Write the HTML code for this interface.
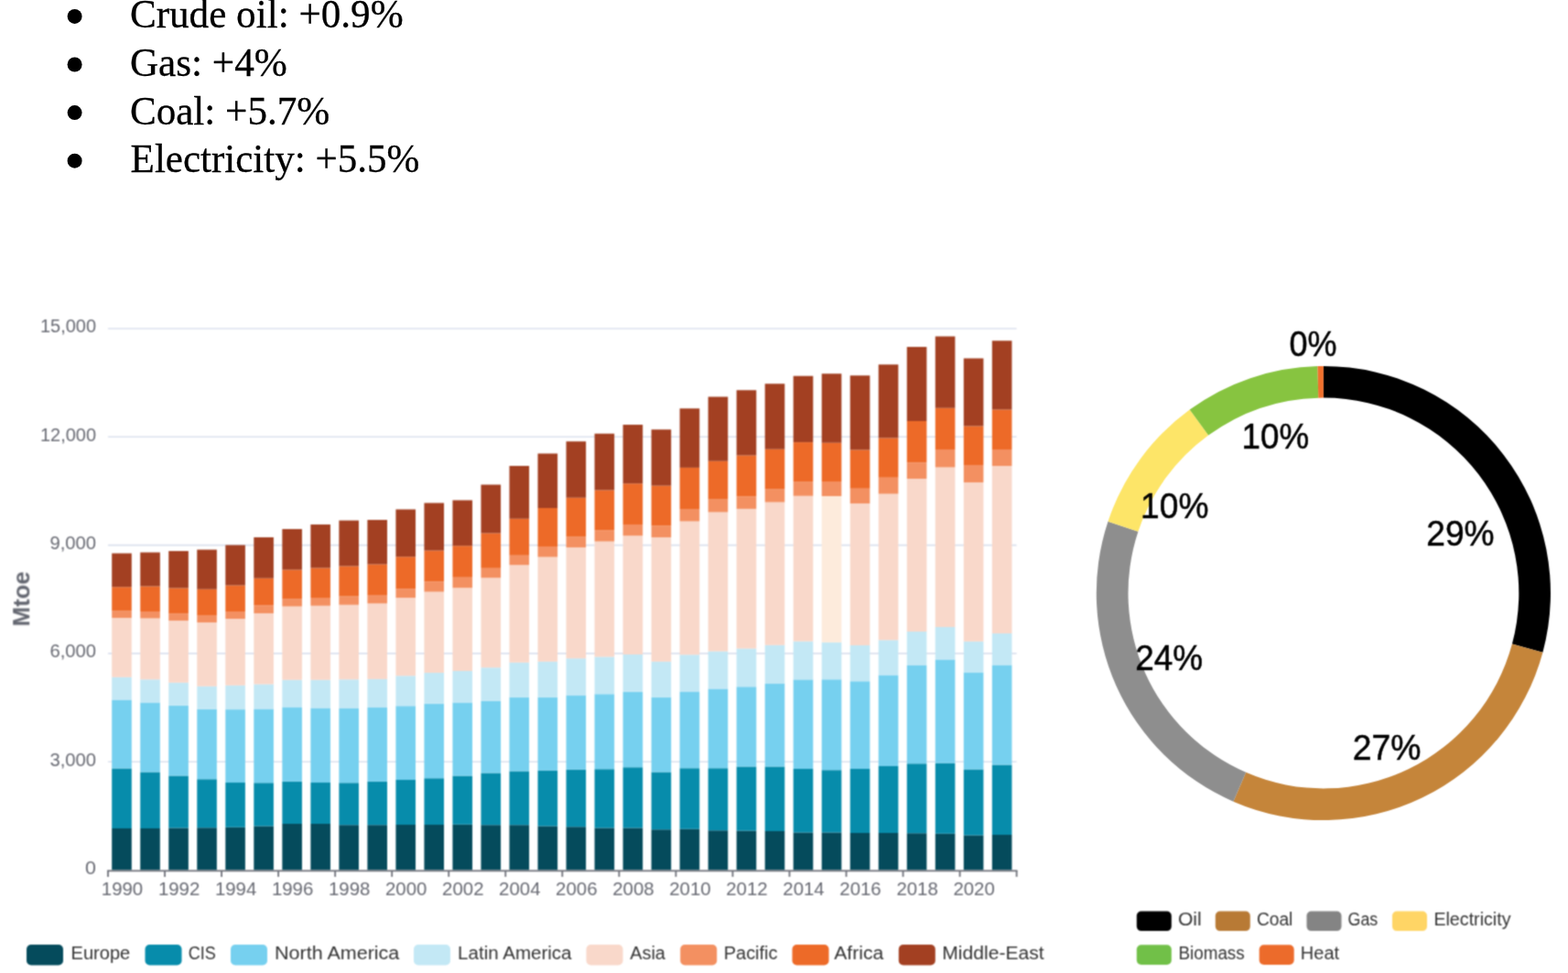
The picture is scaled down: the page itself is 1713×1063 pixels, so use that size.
<!DOCTYPE html>
<html lang="en"><head><meta charset="utf-8"><title>Energy consumption</title>
<style>
html,body{margin:0;padding:0;background:#fff;}
body{width:1713px;height:1063px;overflow:hidden;position:relative;}
svg{position:absolute;left:0;top:0;display:block;}
.b{font-family:"Liberation Serif", serif;font-size:44px;fill:#000;stroke:#000;stroke-width:0.3px;}
.ax{font-family:"Liberation Sans", sans-serif;font-size:20.5px;fill:#686a73;}
.lg{font-family:"Liberation Sans", sans-serif;font-size:20px;fill:#333;}
.pl{font-family:"Liberation Sans", sans-serif;font-size:39px;fill:#000;stroke:#000;stroke-width:0.5px;}
.yn{font-family:"Liberation Sans", sans-serif;font-size:25px;font-weight:bold;fill:#62656f;}
</style></head>
<body>
<svg width="1713" height="1063" viewBox="0 0 1713 1063">
<defs><filter id="bl" filterUnits="userSpaceOnUse" x="0" y="300" width="1713" height="763" color-interpolation-filters="sRGB"><feConvolveMatrix order="3" kernelMatrix="1 2 1 2 4 2 1 2 1" divisor="16" edgeMode="duplicate"/></filter><filter id="bl2" filterUnits="userSpaceOnUse" x="1150" y="300" width="563" height="650" color-interpolation-filters="sRGB"><feConvolveMatrix order="3" kernelMatrix="1 3 1 3 12 3 1 3 1" divisor="28" edgeMode="duplicate"/></filter></defs>
<rect width="1713" height="1063" fill="#fff"/>
<g id="bullets">
<circle cx="81.6" cy="17.9" r="8" fill="#000"/>
<text class="b" x="141.9" y="30.3" textLength="298.7" lengthAdjust="spacingAndGlyphs">Crude oil: +0.9%</text>
<circle cx="81.6" cy="70.5" r="8" fill="#000"/>
<text class="b" x="141.9" y="83.0" textLength="171.9" lengthAdjust="spacingAndGlyphs">Gas: +4%</text>
<circle cx="81.6" cy="123.1" r="8" fill="#000"/>
<text class="b" x="141.9" y="135.7" textLength="218.4" lengthAdjust="spacingAndGlyphs">Coal: +5.7%</text>
<circle cx="81.6" cy="175.7" r="8" fill="#000"/>
<text class="b" x="142.6" y="188.4" textLength="315.8" lengthAdjust="spacingAndGlyphs">Electricity: +5.5%</text>
</g>
<g id="bar-chart" filter="url(#bl)">
<line x1="118.0" y1="832.20" x2="1110.6" y2="832.20" stroke="#DBE1EE" stroke-width="1.6"/>
<line x1="118.0" y1="713.90" x2="1110.6" y2="713.90" stroke="#DBE1EE" stroke-width="1.6"/>
<line x1="118.0" y1="595.60" x2="1110.6" y2="595.60" stroke="#DBE1EE" stroke-width="1.6"/>
<line x1="118.0" y1="477.30" x2="1110.6" y2="477.30" stroke="#DBE1EE" stroke-width="1.6"/>
<line x1="118.0" y1="359.00" x2="1110.6" y2="359.00" stroke="#DBE1EE" stroke-width="1.6"/>
<text class="ax" x="93.1" y="954.8" textLength="11.9" lengthAdjust="spacingAndGlyphs">0</text>
<text class="ax" x="54.4" y="836.5" textLength="50.6" lengthAdjust="spacingAndGlyphs">3,000</text>
<text class="ax" x="54.4" y="718.2" textLength="50.6" lengthAdjust="spacingAndGlyphs">6,000</text>
<text class="ax" x="54.4" y="599.9" textLength="50.6" lengthAdjust="spacingAndGlyphs">9,000</text>
<text class="ax" x="44.0" y="481.6" textLength="61.0" lengthAdjust="spacingAndGlyphs">12,000</text>
<text class="ax" x="44.0" y="363.3" textLength="61.0" lengthAdjust="spacingAndGlyphs">15,000</text>
<text class="yn" transform="translate(32.2,684.4) rotate(-90)" textLength="60" lengthAdjust="spacingAndGlyphs">Mtoe</text>
<rect x="122.21" y="905.00" width="21.60" height="45.50" fill="#054B5C"/><rect x="122.21" y="839.50" width="21.60" height="65.50" fill="#078CAB"/><rect x="122.21" y="764.50" width="21.60" height="75.00" fill="#76D0EF"/><rect x="122.21" y="739.75" width="21.60" height="24.75" fill="#C3E8F5"/><rect x="122.21" y="675.00" width="21.60" height="64.75" fill="#F9D8CA"/><rect x="122.21" y="667.50" width="21.60" height="7.50" fill="#F39061"/><rect x="122.21" y="641.25" width="21.60" height="26.25" fill="#ED6A28"/><rect x="122.21" y="604.50" width="21.60" height="36.75" fill="#A34022"/>
<rect x="153.23" y="905.00" width="21.60" height="45.50" fill="#054B5C"/><rect x="153.23" y="843.50" width="21.60" height="61.50" fill="#078CAB"/><rect x="153.23" y="767.50" width="21.60" height="76.00" fill="#76D0EF"/><rect x="153.23" y="742.25" width="21.60" height="25.25" fill="#C3E8F5"/><rect x="153.23" y="675.50" width="21.60" height="66.75" fill="#F9D8CA"/><rect x="153.23" y="668.00" width="21.60" height="7.50" fill="#F39061"/><rect x="153.23" y="640.50" width="21.60" height="27.50" fill="#ED6A28"/><rect x="153.23" y="603.50" width="21.60" height="37.00" fill="#A34022"/>
<rect x="184.25" y="904.50" width="21.60" height="46.00" fill="#054B5C"/><rect x="184.25" y="847.50" width="21.60" height="57.00" fill="#078CAB"/><rect x="184.25" y="770.75" width="21.60" height="76.75" fill="#76D0EF"/><rect x="184.25" y="745.75" width="21.60" height="25.00" fill="#C3E8F5"/><rect x="184.25" y="678.00" width="21.60" height="67.75" fill="#F9D8CA"/><rect x="184.25" y="670.50" width="21.60" height="7.50" fill="#F39061"/><rect x="184.25" y="642.50" width="21.60" height="28.00" fill="#ED6A28"/><rect x="184.25" y="602.00" width="21.60" height="40.50" fill="#A34022"/>
<rect x="215.27" y="904.25" width="21.60" height="46.25" fill="#054B5C"/><rect x="215.27" y="851.25" width="21.60" height="53.00" fill="#078CAB"/><rect x="215.27" y="774.75" width="21.60" height="76.50" fill="#76D0EF"/><rect x="215.27" y="749.75" width="21.60" height="25.00" fill="#C3E8F5"/><rect x="215.27" y="680.00" width="21.60" height="69.75" fill="#F9D8CA"/><rect x="215.27" y="672.00" width="21.60" height="8.00" fill="#F39061"/><rect x="215.27" y="643.75" width="21.60" height="28.25" fill="#ED6A28"/><rect x="215.27" y="600.50" width="21.60" height="43.25" fill="#A34022"/>
<rect x="246.29" y="903.75" width="21.60" height="46.75" fill="#054B5C"/><rect x="246.29" y="855.00" width="21.60" height="48.75" fill="#078CAB"/><rect x="246.29" y="775.10" width="21.60" height="79.90" fill="#76D0EF"/><rect x="246.29" y="748.75" width="21.60" height="26.35" fill="#C3E8F5"/><rect x="246.29" y="676.00" width="21.60" height="72.75" fill="#F9D8CA"/><rect x="246.29" y="668.00" width="21.60" height="8.00" fill="#F39061"/><rect x="246.29" y="639.50" width="21.60" height="28.50" fill="#ED6A28"/><rect x="246.29" y="595.50" width="21.60" height="44.00" fill="#A34022"/>
<rect x="277.31" y="902.50" width="21.60" height="48.00" fill="#054B5C"/><rect x="277.31" y="855.25" width="21.60" height="47.25" fill="#078CAB"/><rect x="277.31" y="774.50" width="21.60" height="80.75" fill="#76D0EF"/><rect x="277.31" y="747.50" width="21.60" height="27.00" fill="#C3E8F5"/><rect x="277.31" y="670.00" width="21.60" height="77.50" fill="#F9D8CA"/><rect x="277.31" y="661.25" width="21.60" height="8.75" fill="#F39061"/><rect x="277.31" y="631.75" width="21.60" height="29.50" fill="#ED6A28"/><rect x="277.31" y="587.00" width="21.60" height="44.75" fill="#A34022"/>
<rect x="308.33" y="900.00" width="21.60" height="50.50" fill="#054B5C"/><rect x="308.33" y="853.75" width="21.60" height="46.25" fill="#078CAB"/><rect x="308.33" y="772.50" width="21.60" height="81.25" fill="#76D0EF"/><rect x="308.33" y="742.75" width="21.60" height="29.75" fill="#C3E8F5"/><rect x="308.33" y="662.50" width="21.60" height="80.25" fill="#F9D8CA"/><rect x="308.33" y="654.50" width="21.60" height="8.00" fill="#F39061"/><rect x="308.33" y="622.50" width="21.60" height="32.00" fill="#ED6A28"/><rect x="308.33" y="578.00" width="21.60" height="44.50" fill="#A34022"/>
<rect x="339.35" y="900.00" width="21.60" height="50.50" fill="#054B5C"/><rect x="339.35" y="855.00" width="21.60" height="45.00" fill="#078CAB"/><rect x="339.35" y="773.50" width="21.60" height="81.50" fill="#76D0EF"/><rect x="339.35" y="742.75" width="21.60" height="30.75" fill="#C3E8F5"/><rect x="339.35" y="661.75" width="21.60" height="81.00" fill="#F9D8CA"/><rect x="339.35" y="653.00" width="21.60" height="8.75" fill="#F39061"/><rect x="339.35" y="620.50" width="21.60" height="32.50" fill="#ED6A28"/><rect x="339.35" y="573.00" width="21.60" height="47.50" fill="#A34022"/>
<rect x="370.37" y="901.25" width="21.60" height="49.25" fill="#054B5C"/><rect x="370.37" y="855.25" width="21.60" height="46.00" fill="#078CAB"/><rect x="370.37" y="774.00" width="21.60" height="81.25" fill="#76D0EF"/><rect x="370.37" y="742.25" width="21.60" height="31.75" fill="#C3E8F5"/><rect x="370.37" y="660.75" width="21.60" height="81.50" fill="#F9D8CA"/><rect x="370.37" y="651.50" width="21.60" height="9.25" fill="#F39061"/><rect x="370.37" y="618.50" width="21.60" height="33.00" fill="#ED6A28"/><rect x="370.37" y="568.60" width="21.60" height="49.90" fill="#A34022"/>
<rect x="401.39" y="901.25" width="21.60" height="49.25" fill="#054B5C"/><rect x="401.39" y="853.75" width="21.60" height="47.50" fill="#078CAB"/><rect x="401.39" y="773.00" width="21.60" height="80.75" fill="#76D0EF"/><rect x="401.39" y="741.90" width="21.60" height="31.10" fill="#C3E8F5"/><rect x="401.39" y="659.25" width="21.60" height="82.65" fill="#F9D8CA"/><rect x="401.39" y="650.00" width="21.60" height="9.25" fill="#F39061"/><rect x="401.39" y="616.50" width="21.60" height="33.50" fill="#ED6A28"/><rect x="401.39" y="568.00" width="21.60" height="48.50" fill="#A34022"/>
<rect x="432.41" y="901.00" width="21.60" height="49.50" fill="#054B5C"/><rect x="432.41" y="852.00" width="21.60" height="49.00" fill="#078CAB"/><rect x="432.41" y="771.25" width="21.60" height="80.75" fill="#76D0EF"/><rect x="432.41" y="738.25" width="21.60" height="33.00" fill="#C3E8F5"/><rect x="432.41" y="653.00" width="21.60" height="85.25" fill="#F9D8CA"/><rect x="432.41" y="643.25" width="21.60" height="9.75" fill="#F39061"/><rect x="432.41" y="608.25" width="21.60" height="35.00" fill="#ED6A28"/><rect x="432.41" y="556.50" width="21.60" height="51.75" fill="#A34022"/>
<rect x="463.43" y="901.00" width="21.60" height="49.50" fill="#054B5C"/><rect x="463.43" y="850.25" width="21.60" height="50.75" fill="#078CAB"/><rect x="463.43" y="768.75" width="21.60" height="81.50" fill="#76D0EF"/><rect x="463.43" y="735.00" width="21.60" height="33.75" fill="#C3E8F5"/><rect x="463.43" y="646.50" width="21.60" height="88.50" fill="#F9D8CA"/><rect x="463.43" y="635.25" width="21.60" height="11.25" fill="#F39061"/><rect x="463.43" y="601.50" width="21.60" height="33.75" fill="#ED6A28"/><rect x="463.43" y="549.50" width="21.60" height="52.00" fill="#A34022"/>
<rect x="494.45" y="900.75" width="21.60" height="49.75" fill="#054B5C"/><rect x="494.45" y="847.60" width="21.60" height="53.15" fill="#078CAB"/><rect x="494.45" y="767.50" width="21.60" height="80.10" fill="#76D0EF"/><rect x="494.45" y="733.00" width="21.60" height="34.50" fill="#C3E8F5"/><rect x="494.45" y="642.20" width="21.60" height="90.80" fill="#F9D8CA"/><rect x="494.45" y="630.75" width="21.60" height="11.45" fill="#F39061"/><rect x="494.45" y="596.25" width="21.60" height="34.50" fill="#ED6A28"/><rect x="494.45" y="546.50" width="21.60" height="49.75" fill="#A34022"/>
<rect x="525.47" y="901.25" width="21.60" height="49.25" fill="#054B5C"/><rect x="525.47" y="844.50" width="21.60" height="56.75" fill="#078CAB"/><rect x="525.47" y="765.75" width="21.60" height="78.75" fill="#76D0EF"/><rect x="525.47" y="729.25" width="21.60" height="36.50" fill="#C3E8F5"/><rect x="525.47" y="631.25" width="21.60" height="98.00" fill="#F9D8CA"/><rect x="525.47" y="620.75" width="21.60" height="10.50" fill="#F39061"/><rect x="525.47" y="582.50" width="21.60" height="38.25" fill="#ED6A28"/><rect x="525.47" y="529.50" width="21.60" height="53.00" fill="#A34022"/>
<rect x="556.49" y="901.25" width="21.60" height="49.25" fill="#054B5C"/><rect x="556.49" y="842.50" width="21.60" height="58.75" fill="#078CAB"/><rect x="556.49" y="761.75" width="21.60" height="80.75" fill="#76D0EF"/><rect x="556.49" y="723.75" width="21.60" height="38.00" fill="#C3E8F5"/><rect x="556.49" y="617.25" width="21.60" height="106.50" fill="#F9D8CA"/><rect x="556.49" y="606.75" width="21.60" height="10.50" fill="#F39061"/><rect x="556.49" y="566.75" width="21.60" height="40.00" fill="#ED6A28"/><rect x="556.49" y="509.00" width="21.60" height="57.75" fill="#A34022"/>
<rect x="587.51" y="902.50" width="21.60" height="48.00" fill="#054B5C"/><rect x="587.51" y="841.75" width="21.60" height="60.75" fill="#078CAB"/><rect x="587.51" y="761.75" width="21.60" height="80.00" fill="#76D0EF"/><rect x="587.51" y="722.75" width="21.60" height="39.00" fill="#C3E8F5"/><rect x="587.51" y="608.50" width="21.60" height="114.25" fill="#F9D8CA"/><rect x="587.51" y="597.00" width="21.60" height="11.50" fill="#F39061"/><rect x="587.51" y="555.00" width="21.60" height="42.00" fill="#ED6A28"/><rect x="587.51" y="495.50" width="21.60" height="59.50" fill="#A34022"/>
<rect x="618.53" y="903.25" width="21.60" height="47.25" fill="#054B5C"/><rect x="618.53" y="840.75" width="21.60" height="62.50" fill="#078CAB"/><rect x="618.53" y="759.50" width="21.60" height="81.25" fill="#76D0EF"/><rect x="618.53" y="719.25" width="21.60" height="40.25" fill="#C3E8F5"/><rect x="618.53" y="598.00" width="21.60" height="121.25" fill="#F9D8CA"/><rect x="618.53" y="586.50" width="21.60" height="11.50" fill="#F39061"/><rect x="618.53" y="543.75" width="21.60" height="42.75" fill="#ED6A28"/><rect x="618.53" y="482.25" width="21.60" height="61.50" fill="#A34022"/>
<rect x="649.55" y="904.50" width="21.60" height="46.00" fill="#054B5C"/><rect x="649.55" y="840.25" width="21.60" height="64.25" fill="#078CAB"/><rect x="649.55" y="758.25" width="21.60" height="82.00" fill="#76D0EF"/><rect x="649.55" y="717.50" width="21.60" height="40.75" fill="#C3E8F5"/><rect x="649.55" y="591.50" width="21.60" height="126.00" fill="#F9D8CA"/><rect x="649.55" y="579.25" width="21.60" height="12.25" fill="#F39061"/><rect x="649.55" y="535.50" width="21.60" height="43.75" fill="#ED6A28"/><rect x="649.55" y="473.75" width="21.60" height="61.75" fill="#A34022"/>
<rect x="680.57" y="904.50" width="21.60" height="46.00" fill="#054B5C"/><rect x="680.57" y="838.25" width="21.60" height="66.25" fill="#078CAB"/><rect x="680.57" y="755.75" width="21.60" height="82.50" fill="#76D0EF"/><rect x="680.57" y="715.00" width="21.60" height="40.75" fill="#C3E8F5"/><rect x="680.57" y="585.25" width="21.60" height="129.75" fill="#F9D8CA"/><rect x="680.57" y="573.00" width="21.60" height="12.25" fill="#F39061"/><rect x="680.57" y="528.25" width="21.60" height="44.75" fill="#ED6A28"/><rect x="680.57" y="464.00" width="21.60" height="64.25" fill="#A34022"/>
<rect x="711.59" y="906.25" width="21.60" height="44.25" fill="#054B5C"/><rect x="711.59" y="843.50" width="21.60" height="62.75" fill="#078CAB"/><rect x="711.59" y="761.75" width="21.60" height="81.75" fill="#76D0EF"/><rect x="711.59" y="722.75" width="21.60" height="39.00" fill="#C3E8F5"/><rect x="711.59" y="587.00" width="21.60" height="135.75" fill="#F9D8CA"/><rect x="711.59" y="574.40" width="21.60" height="12.60" fill="#F39061"/><rect x="711.59" y="530.60" width="21.60" height="43.80" fill="#ED6A28"/><rect x="711.59" y="469.25" width="21.60" height="61.35" fill="#A34022"/>
<rect x="742.61" y="905.75" width="21.60" height="44.75" fill="#054B5C"/><rect x="742.61" y="839.25" width="21.60" height="66.50" fill="#078CAB"/><rect x="742.61" y="755.50" width="21.60" height="83.75" fill="#76D0EF"/><rect x="742.61" y="715.25" width="21.60" height="40.25" fill="#C3E8F5"/><rect x="742.61" y="569.50" width="21.60" height="145.75" fill="#F9D8CA"/><rect x="742.61" y="556.00" width="21.60" height="13.50" fill="#F39061"/><rect x="742.61" y="510.90" width="21.60" height="45.10" fill="#ED6A28"/><rect x="742.61" y="446.25" width="21.60" height="64.65" fill="#A34022"/>
<rect x="773.63" y="907.25" width="21.60" height="43.25" fill="#054B5C"/><rect x="773.63" y="839.25" width="21.60" height="68.00" fill="#078CAB"/><rect x="773.63" y="752.50" width="21.60" height="86.75" fill="#76D0EF"/><rect x="773.63" y="711.50" width="21.60" height="41.00" fill="#C3E8F5"/><rect x="773.63" y="559.50" width="21.60" height="152.00" fill="#F9D8CA"/><rect x="773.63" y="545.60" width="21.60" height="13.90" fill="#F39061"/><rect x="773.63" y="503.75" width="21.60" height="41.85" fill="#ED6A28"/><rect x="773.63" y="433.50" width="21.60" height="70.25" fill="#A34022"/>
<rect x="804.65" y="907.60" width="21.60" height="42.90" fill="#054B5C"/><rect x="804.65" y="837.50" width="21.60" height="70.10" fill="#078CAB"/><rect x="804.65" y="750.25" width="21.60" height="87.25" fill="#76D0EF"/><rect x="804.65" y="708.50" width="21.60" height="41.75" fill="#C3E8F5"/><rect x="804.65" y="555.90" width="21.60" height="152.60" fill="#F9D8CA"/><rect x="804.65" y="542.25" width="21.60" height="13.65" fill="#F39061"/><rect x="804.65" y="497.50" width="21.60" height="44.75" fill="#ED6A28"/><rect x="804.65" y="426.25" width="21.60" height="71.25" fill="#A34022"/>
<rect x="835.67" y="908.00" width="21.60" height="42.50" fill="#054B5C"/><rect x="835.67" y="837.50" width="21.60" height="70.50" fill="#078CAB"/><rect x="835.67" y="746.60" width="21.60" height="90.90" fill="#76D0EF"/><rect x="835.67" y="704.75" width="21.60" height="41.85" fill="#C3E8F5"/><rect x="835.67" y="548.60" width="21.60" height="156.15" fill="#F9D8CA"/><rect x="835.67" y="534.10" width="21.60" height="14.50" fill="#F39061"/><rect x="835.67" y="490.75" width="21.60" height="43.35" fill="#ED6A28"/><rect x="835.67" y="419.25" width="21.60" height="71.50" fill="#A34022"/>
<rect x="866.69" y="909.50" width="21.60" height="41.00" fill="#054B5C"/><rect x="866.69" y="840.00" width="21.60" height="69.50" fill="#078CAB"/><rect x="866.69" y="742.40" width="21.60" height="97.60" fill="#76D0EF"/><rect x="866.69" y="700.60" width="21.60" height="41.80" fill="#C3E8F5"/><rect x="866.69" y="541.75" width="21.60" height="158.85" fill="#F9D8CA"/><rect x="866.69" y="526.10" width="21.60" height="15.65" fill="#F39061"/><rect x="866.69" y="483.10" width="21.60" height="43.00" fill="#ED6A28"/><rect x="866.69" y="410.75" width="21.60" height="72.35" fill="#A34022"/>
<rect x="897.71" y="909.50" width="21.60" height="41.00" fill="#054B5C"/><rect x="897.71" y="841.25" width="21.60" height="68.25" fill="#078CAB"/><rect x="897.71" y="742.25" width="21.60" height="99.00" fill="#76D0EF"/><rect x="897.71" y="701.75" width="21.60" height="40.50" fill="#C3E8F5"/><rect x="897.71" y="542.00" width="21.60" height="159.75" fill="#FDEBDC"/><rect x="897.71" y="526.00" width="21.60" height="16.00" fill="#F39061"/><rect x="897.71" y="483.75" width="21.60" height="42.25" fill="#ED6A28"/><rect x="897.71" y="408.25" width="21.60" height="75.50" fill="#A34022"/>
<rect x="928.73" y="910.00" width="21.60" height="40.50" fill="#054B5C"/><rect x="928.73" y="840.00" width="21.60" height="70.00" fill="#078CAB"/><rect x="928.73" y="744.25" width="21.60" height="95.75" fill="#76D0EF"/><rect x="928.73" y="705.00" width="21.60" height="39.25" fill="#C3E8F5"/><rect x="928.73" y="550.00" width="21.60" height="155.00" fill="#F9D8CA"/><rect x="928.73" y="533.75" width="21.60" height="16.25" fill="#F39061"/><rect x="928.73" y="491.50" width="21.60" height="42.25" fill="#ED6A28"/><rect x="928.73" y="410.25" width="21.60" height="81.25" fill="#A34022"/>
<rect x="959.75" y="910.00" width="21.60" height="40.50" fill="#054B5C"/><rect x="959.75" y="837.00" width="21.60" height="73.00" fill="#078CAB"/><rect x="959.75" y="737.50" width="21.60" height="99.50" fill="#76D0EF"/><rect x="959.75" y="699.25" width="21.60" height="38.25" fill="#C3E8F5"/><rect x="959.75" y="539.50" width="21.60" height="159.75" fill="#F9D8CA"/><rect x="959.75" y="521.75" width="21.60" height="17.75" fill="#F39061"/><rect x="959.75" y="478.50" width="21.60" height="43.25" fill="#ED6A28"/><rect x="959.75" y="398.25" width="21.60" height="80.25" fill="#A34022"/>
<rect x="990.77" y="910.25" width="21.60" height="40.25" fill="#054B5C"/><rect x="990.77" y="834.25" width="21.60" height="76.00" fill="#078CAB"/><rect x="990.77" y="727.00" width="21.60" height="107.25" fill="#76D0EF"/><rect x="990.77" y="690.00" width="21.60" height="37.00" fill="#C3E8F5"/><rect x="990.77" y="523.00" width="21.60" height="167.00" fill="#F9D8CA"/><rect x="990.77" y="505.25" width="21.60" height="17.75" fill="#F39061"/><rect x="990.77" y="460.00" width="21.60" height="45.25" fill="#ED6A28"/><rect x="990.77" y="379.00" width="21.60" height="81.00" fill="#A34022"/>
<rect x="1021.79" y="910.75" width="21.60" height="39.75" fill="#054B5C"/><rect x="1021.79" y="833.75" width="21.60" height="77.00" fill="#078CAB"/><rect x="1021.79" y="720.50" width="21.60" height="113.25" fill="#76D0EF"/><rect x="1021.79" y="685.00" width="21.60" height="35.50" fill="#C3E8F5"/><rect x="1021.79" y="510.50" width="21.60" height="174.50" fill="#F9D8CA"/><rect x="1021.79" y="491.00" width="21.60" height="19.50" fill="#F39061"/><rect x="1021.79" y="445.75" width="21.60" height="45.25" fill="#ED6A28"/><rect x="1021.79" y="367.50" width="21.60" height="78.25" fill="#A34022"/>
<rect x="1052.81" y="912.50" width="21.60" height="38.00" fill="#054B5C"/><rect x="1052.81" y="840.50" width="21.60" height="72.00" fill="#078CAB"/><rect x="1052.81" y="734.50" width="21.60" height="106.00" fill="#76D0EF"/><rect x="1052.81" y="700.75" width="21.60" height="33.75" fill="#C3E8F5"/><rect x="1052.81" y="527.00" width="21.60" height="173.75" fill="#F9D8CA"/><rect x="1052.81" y="508.00" width="21.60" height="19.00" fill="#F39061"/><rect x="1052.81" y="465.50" width="21.60" height="42.50" fill="#ED6A28"/><rect x="1052.81" y="391.50" width="21.60" height="74.00" fill="#A34022"/>
<rect x="1083.83" y="912.00" width="21.60" height="38.50" fill="#054B5C"/><rect x="1083.83" y="835.60" width="21.60" height="76.40" fill="#078CAB"/><rect x="1083.83" y="726.50" width="21.60" height="109.10" fill="#76D0EF"/><rect x="1083.83" y="692.00" width="21.60" height="34.50" fill="#C3E8F5"/><rect x="1083.83" y="509.00" width="21.60" height="183.00" fill="#F9D8CA"/><rect x="1083.83" y="491.00" width="21.60" height="18.00" fill="#F39061"/><rect x="1083.83" y="447.50" width="21.60" height="43.50" fill="#ED6A28"/><rect x="1083.83" y="372.25" width="21.60" height="75.25" fill="#A34022"/>
<line x1="117.1" y1="951.30" x2="1111.5" y2="951.30" stroke="#6E7079" stroke-width="1.8"/>
<line x1="118.00" y1="951.30" x2="118.00" y2="957.90" stroke="#6E7079" stroke-width="1.8"/><line x1="180.04" y1="951.30" x2="180.04" y2="957.90" stroke="#6E7079" stroke-width="1.8"/><line x1="242.08" y1="951.30" x2="242.08" y2="957.90" stroke="#6E7079" stroke-width="1.8"/><line x1="304.12" y1="951.30" x2="304.12" y2="957.90" stroke="#6E7079" stroke-width="1.8"/><line x1="366.16" y1="951.30" x2="366.16" y2="957.90" stroke="#6E7079" stroke-width="1.8"/><line x1="428.20" y1="951.30" x2="428.20" y2="957.90" stroke="#6E7079" stroke-width="1.8"/><line x1="490.24" y1="951.30" x2="490.24" y2="957.90" stroke="#6E7079" stroke-width="1.8"/><line x1="552.28" y1="951.30" x2="552.28" y2="957.90" stroke="#6E7079" stroke-width="1.8"/><line x1="614.32" y1="951.30" x2="614.32" y2="957.90" stroke="#6E7079" stroke-width="1.8"/><line x1="676.36" y1="951.30" x2="676.36" y2="957.90" stroke="#6E7079" stroke-width="1.8"/><line x1="738.40" y1="951.30" x2="738.40" y2="957.90" stroke="#6E7079" stroke-width="1.8"/><line x1="800.44" y1="951.30" x2="800.44" y2="957.90" stroke="#6E7079" stroke-width="1.8"/><line x1="862.48" y1="951.30" x2="862.48" y2="957.90" stroke="#6E7079" stroke-width="1.8"/><line x1="924.52" y1="951.30" x2="924.52" y2="957.90" stroke="#6E7079" stroke-width="1.8"/><line x1="986.56" y1="951.30" x2="986.56" y2="957.90" stroke="#6E7079" stroke-width="1.8"/><line x1="1048.60" y1="951.30" x2="1048.60" y2="957.90" stroke="#6E7079" stroke-width="1.8"/><line x1="1110.64" y1="951.30" x2="1110.64" y2="957.90" stroke="#6E7079" stroke-width="1.8"/>
<text class="ax" x="110.8" y="978" textLength="45.4" lengthAdjust="spacingAndGlyphs">1990</text><text class="ax" x="172.9" y="978" textLength="45.4" lengthAdjust="spacingAndGlyphs">1992</text><text class="ax" x="234.9" y="978" textLength="45.4" lengthAdjust="spacingAndGlyphs">1994</text><text class="ax" x="296.9" y="978" textLength="45.4" lengthAdjust="spacingAndGlyphs">1996</text><text class="ax" x="359.0" y="978" textLength="45.4" lengthAdjust="spacingAndGlyphs">1998</text><text class="ax" x="421.0" y="978" textLength="45.4" lengthAdjust="spacingAndGlyphs">2000</text><text class="ax" x="483.1" y="978" textLength="45.4" lengthAdjust="spacingAndGlyphs">2002</text><text class="ax" x="545.1" y="978" textLength="45.4" lengthAdjust="spacingAndGlyphs">2004</text><text class="ax" x="607.1" y="978" textLength="45.4" lengthAdjust="spacingAndGlyphs">2006</text><text class="ax" x="669.2" y="978" textLength="45.4" lengthAdjust="spacingAndGlyphs">2008</text><text class="ax" x="731.2" y="978" textLength="45.4" lengthAdjust="spacingAndGlyphs">2010</text><text class="ax" x="793.2" y="978" textLength="45.4" lengthAdjust="spacingAndGlyphs">2012</text><text class="ax" x="855.3" y="978" textLength="45.4" lengthAdjust="spacingAndGlyphs">2014</text><text class="ax" x="917.3" y="978" textLength="45.4" lengthAdjust="spacingAndGlyphs">2016</text><text class="ax" x="979.4" y="978" textLength="45.4" lengthAdjust="spacingAndGlyphs">2018</text><text class="ax" x="1041.4" y="978" textLength="45.4" lengthAdjust="spacingAndGlyphs">2020</text>
<rect x="29.0" y="1032" width="40" height="22.5" rx="5" ry="5" fill="#054B5C"/><text class="lg" x="77.5" y="1048.3" textLength="64.7" lengthAdjust="spacingAndGlyphs">Europe</text>
<rect x="158.5" y="1032" width="40" height="22.5" rx="5" ry="5" fill="#078CAB"/><text class="lg" x="205.8" y="1048.3" textLength="30.1" lengthAdjust="spacingAndGlyphs">CIS</text>
<rect x="252.0" y="1032" width="40" height="22.5" rx="5" ry="5" fill="#76D0EF"/><text class="lg" x="300.1" y="1048.3" textLength="136.2" lengthAdjust="spacingAndGlyphs">North America</text>
<rect x="452.0" y="1032" width="40" height="22.5" rx="5" ry="5" fill="#C3E8F5"/><text class="lg" x="500.1" y="1048.3" textLength="124.4" lengthAdjust="spacingAndGlyphs">Latin America</text>
<rect x="640.5" y="1032" width="40" height="22.5" rx="5" ry="5" fill="#F9D8CA"/><text class="lg" x="688.3" y="1048.3" textLength="38.6" lengthAdjust="spacingAndGlyphs">Asia</text>
<rect x="743.2" y="1032" width="40" height="22.5" rx="5" ry="5" fill="#F39061"/><text class="lg" x="790.8" y="1048.3" textLength="58.6" lengthAdjust="spacingAndGlyphs">Pacific</text>
<rect x="865.5" y="1032" width="40" height="22.5" rx="5" ry="5" fill="#ED6A28"/><text class="lg" x="911.3" y="1048.3" textLength="53.9" lengthAdjust="spacingAndGlyphs">Africa</text>
<rect x="981.8" y="1032" width="40" height="22.5" rx="5" ry="5" fill="#A34022"/><text class="lg" x="1029.3" y="1048.3" textLength="111.4" lengthAdjust="spacingAndGlyphs">Middle-East</text>
</g>
<g id="donut" filter="url(#bl2)">
<path d="M1445.90 399.90A248.1 248.1 0 0 1 1685.43 712.63L1651.93 703.59A213.4 213.4 0 0 0 1445.90 434.60Z" fill="#000000"/>
<path d="M1685.43 712.63A248.1 248.1 0 0 1 1347.37 875.69L1361.15 843.85A213.4 213.4 0 0 0 1651.93 703.59Z" fill="#C5853A"/>
<path d="M1347.37 875.69A248.1 248.1 0 0 1 1210.48 569.69L1243.41 580.64A213.4 213.4 0 0 0 1361.15 843.85Z" fill="#8E8E8E"/>
<path d="M1210.48 569.69A248.1 248.1 0 0 1 1299.72 447.54L1320.17 475.57A213.4 213.4 0 0 0 1243.41 580.64Z" fill="#FDE568"/>
<path d="M1299.72 447.54A248.1 248.1 0 0 1 1439.41 399.99L1440.31 434.67A213.4 213.4 0 0 0 1320.17 475.57Z" fill="#87C440"/>
<path d="M1439.41 399.99A248.1 248.1 0 0 1 1445.90 399.90L1445.90 434.60A213.4 213.4 0 0 0 1440.31 434.67Z" fill="#F1702C"/>
<text class="pl" x="1408.6" y="389.0" textLength="52.0" lengthAdjust="spacingAndGlyphs">0%</text>
<text class="pl" x="1356.6" y="490.0" textLength="73.6" lengthAdjust="spacingAndGlyphs">10%</text>
<text class="pl" x="1246.1" y="566.0" textLength="74.3" lengthAdjust="spacingAndGlyphs">10%</text>
<text class="pl" x="1558.3" y="596.0" textLength="74.3" lengthAdjust="spacingAndGlyphs">29%</text>
<text class="pl" x="1240.3" y="732.0" textLength="73.9" lengthAdjust="spacingAndGlyphs">24%</text>
<text class="pl" x="1477.8" y="830.0" textLength="74.7" lengthAdjust="spacingAndGlyphs">27%</text>
</g>
<g id="donut-legend" filter="url(#bl)">
<rect x="1241.8" y="995.5" width="38" height="21.6" rx="5" ry="5" fill="#000000"/><text class="lg" x="1286.9" y="1011.1" textLength="25.8" lengthAdjust="spacingAndGlyphs">Oil</text>
<rect x="1327.8" y="995.5" width="38" height="21.6" rx="5" ry="5" fill="#B87A35"/><text class="lg" x="1372.9" y="1011.1" textLength="39.5" lengthAdjust="spacingAndGlyphs">Coal</text>
<rect x="1427.5" y="995.5" width="38" height="21.6" rx="5" ry="5" fill="#848484"/><text class="lg" x="1472.6" y="1011.1" textLength="32.7" lengthAdjust="spacingAndGlyphs">Gas</text>
<rect x="1521.0" y="995.5" width="38" height="21.6" rx="5" ry="5" fill="#FFD565"/><text class="lg" x="1566.4" y="1011.1" textLength="84.1" lengthAdjust="spacingAndGlyphs">Electricity</text>
<rect x="1241.8" y="1032.3" width="38" height="21.6" rx="5" ry="5" fill="#71C048"/><text class="lg" x="1287.5" y="1047.9" textLength="72.2" lengthAdjust="spacingAndGlyphs">Biomass</text>
<rect x="1375.7" y="1032.3" width="38" height="21.6" rx="5" ry="5" fill="#EC6B2B"/><text class="lg" x="1420.8" y="1047.9" textLength="42.3" lengthAdjust="spacingAndGlyphs">Heat</text>
</g>
</svg>
</body></html>
